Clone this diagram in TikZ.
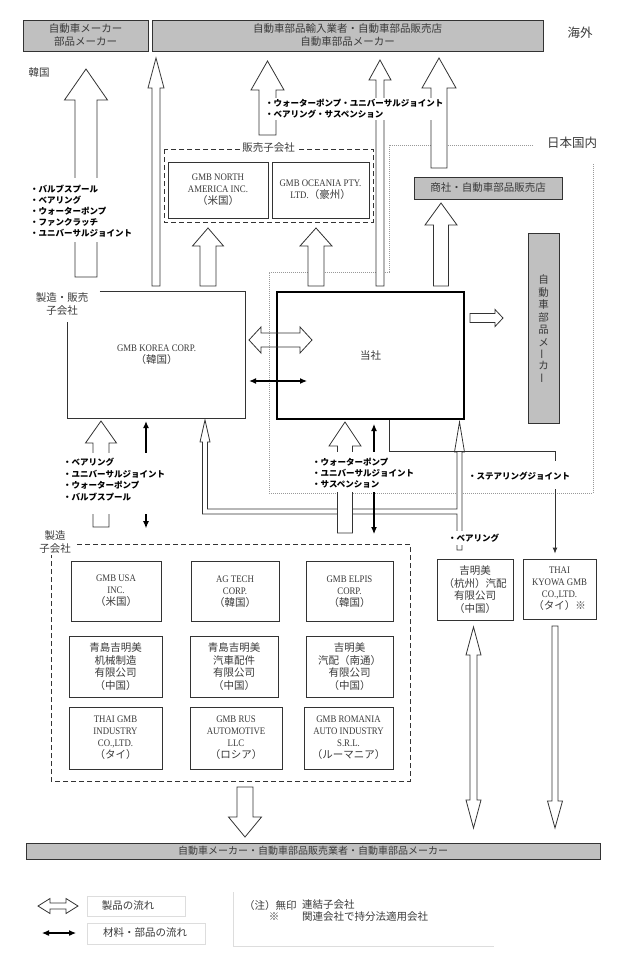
\documentclass[tikz,border=0pt]{standalone}
\usepackage{fontspec}
\setmainfont{Liberation Serif}
\newfontfamily\jp{Noto Sans CJK JP}
\newfontfamily\latf[FakeStretch=0.88]{Liberation Serif}
\usetikzlibrary{arrows.meta}
\definecolor{boxgray}{HTML}{C0C0C0}
\definecolor{linec}{HTML}{333333}
\definecolor{txtc}{HTML}{3A3A3A}
\definecolor{dotc}{HTML}{999999}
\definecolor{legc}{HTML}{DDDDDD}
\newcommand\BxJ{\jp\fontsize{10.5}{13}\selectfont}
\newcommand\SbJ{\jp\fontsize{10.5}{12.5}\selectfont}
\newcommand\BxL{\latf\fontsize{10}{12}\selectfont}
\newcommand\LbF{\jp\bfseries\fontsize{8.5}{11}\selectfont}
\newcommand\BigJ{\jp\fontsize{12.5}{14}\selectfont}
% block arrows: cx, tip y, bottom y, half shaft, half head, head length
\newcommand\ArrUp[6]{\filldraw[blockarr] (#1-#4,#3) -- (#1-#4,#2+#6) -- (#1-#5,#2+#6) -- (#1,#2) -- (#1+#5,#2+#6) -- (#1+#4,#2+#6) -- (#1+#4,#3) -- cycle;}
% cx, top y, tip y, half shaft, half head, head length
\newcommand\ArrDown[6]{\filldraw[blockarr] (#1-#4,#2) -- (#1-#4,#3-#6) -- (#1-#5,#3-#6) -- (#1,#3) -- (#1+#5,#3-#6) -- (#1+#4,#3-#6) -- (#1+#4,#2) -- cycle;}
% cx, top tip, bottom tip, half shaft, half head, head length
\newcommand\ArrUD[6]{\filldraw[blockarr] (#1,#2) -- (#1+#5,#2+#6) -- (#1+#4,#2+#6) -- (#1+#4,#3-#6) -- (#1+#5,#3-#6) -- (#1,#3) -- (#1-#5,#3-#6) -- (#1-#4,#3-#6) -- (#1-#4,#2+#6) -- (#1-#5,#2+#6) -- cycle;}
% cy, left tip, right tip, half shaft, half head, head length
\newcommand\ArrLR[6]{\draw[blockline] (#2,#1) -- (#2+#6,#1-#5) -- (#2+#6,#1-#4) -- (#3-#6,#1-#4) -- (#3-#6,#1-#5) -- (#3,#1) -- (#3-#6,#1+#5) -- (#3-#6,#1+#4) -- (#2+#6,#1+#4) -- (#2+#6,#1+#5) -- cycle;}
% cy, left end, tip, half shaft, half head, head length
\newcommand\ArrRight[6]{\filldraw[blockarr] (#2,#1-#4) -- (#3-#6,#1-#4) -- (#3-#6,#1-#5) -- (#3,#1) -- (#3-#6,#1+#5) -- (#3-#6,#1+#4) -- (#2,#1+#4) -- cycle;}
\begin{document}
\begin{tikzpicture}[x=1pt,y=-1pt,
  graybox/.style={draw=linec,fill=boxgray,line width=0.9pt,inner sep=0pt,font=\BxJ,text=txtc,align=center},
  cobox/.style={draw=linec,line width=0.8pt,inner sep=0pt,font=\BxL,text=txtc,align=center},
  blockarr/.style={draw=linec,fill=white,line width=0.8pt,line join=miter},
  blockline/.style={draw=linec,line width=0.8pt,line join=miter},
  matarr/.style={draw=black,line width=1.1pt,{Latex[length=7pt,width=6pt]}-{Latex[length=7pt,width=6pt]}},
  lbl/.style={font=\LbF,align=left,anchor=west,inner sep=0pt,text=black},
  tag/.style={font=\BxJ,text=txtc,align=center,fill=white,inner sep=1pt},
  plaintxt/.style={font=\BxJ,text=txtc,align=center,inner sep=0pt},
  dotline/.style={draw=dotc,line width=0.8pt,dash pattern=on 1pt off 1pt},
  dashbox/.style={draw=linec,line width=0.9pt,dash pattern=on 5pt off 3pt},
  cover/.style={fill=white,draw=none}]
\useasboundingbox (0,0) rectangle (631,955);
\fill[white] (0,0) rectangle (631,955);

% ---------- domestic area boundary ----------
\draw[dotline] (533,145) -- (389,145) -- (389,272) -- (269,272) -- (269,493) -- (593,493) -- (593,163);
\node[font=\BigJ,text=txtc] (jpn) at (572,143) {日本国内};
\node[font=\BigJ,text=txtc] (ovs) at (580,33) {海外};
\node[plaintxt] (kr) at (39,73) {韓国};

% ---------- gray customer boxes ----------
\node[graybox,minimum width=125,minimum height=31] (mkr) at (85.5,35.5) {自動車メーカー\\部品メーカー};
\node[graybox,minimum width=391,minimum height=31] (imp) at (347.5,35.5) {自動車部品輸入業者・自動車部品販売店\\自動車部品メーカー};
\node[graybox,minimum width=148,minimum height=22] (shosha) at (488,188) {商社・自動車部品販売店};
\node[graybox,minimum width=31,minimum height=190] (pmk) at (543.5,328) {};
\foreach \c/\yy [count=\i] in {自/280,動/292.5,車/305,部/317.5,品/330,メ/342.5,カ/366}
  \node[plaintxt] (pv\i) at (543.5,\yy) {\c};
\node[plaintxt,rotate=90] (pvb1) at (543.5,354) {ー};
\node[plaintxt,rotate=90] (pvb2) at (543.5,378) {ー};
\node[graybox,minimum width=574,minimum height=16,font=\jp\fontsize{10}{12}\selectfont] (cust) at (313,851) {自動車メーカー・自動車部品販売業者・自動車部品メーカー};

% ---------- sales subsidiaries ----------
\draw[dashbox] (164,149) rectangle (373,222);
\node[tag] (hsl) at (268.5,148) {販売子会社};
\node[cobox,minimum width=100,minimum height=56] (gna) at (218,190) {GMB NORTH\\AMERICA INC.\\{\SbJ（米国）}};
\node[cobox,minimum width=97,minimum height=56] (goc) at (320.5,190) {GMB OCEANIA PTY.\\LTD.{\SbJ（豪州）}};

% ---------- Korea ----------
\node[inner sep=0pt,minimum width=177,minimum height=126] (korea) at (156.5,355) {};
\draw[blockline] ([xshift=32pt]korea.north west) -- (korea.north east) -- (korea.south east) -- (korea.south west) -- ([yshift=-30pt]korea.north west);
\node[cobox,draw=none] (kort) at (156.5,355) {GMB KOREA CORP.\\{\SbJ（韓国）}};
\node[plaintxt] (kl) at (62,304.5) {製造・販売\\子会社};

% ---------- company ----------
\node[draw=black,line width=2pt,minimum width=187,minimum height=127,font=\BxJ,text=txtc] (tousha) at (370.5,355.5) {当社};

% ---------- manufacturing subsidiaries ----------
\draw[dashbox] (77,544) -- (410,544) -- (410,781) -- (51,781) -- (51,555);
\node[plaintxt] (msl) at (55,542.5) {製造\\子会社};
\node[cobox,minimum width=90,minimum height=60] (usa) at (116,591) {GMB USA\\INC.\\{\SbJ（米国）}};
\node[cobox,minimum width=88,minimum height=60] (agt) at (235,591.5) {AG TECH\\CORP.\\{\SbJ（韓国）}};
\node[cobox,minimum width=87,minimum height=60] (elp) at (349.5,591.5) {GMB ELPIS\\CORP.\\{\SbJ（韓国）}};
\node[cobox,font=\SbJ,minimum width=93,minimum height=61] (qd1) at (115.5,666.5) {青島吉明美\\机械制造\\有限公司\\（中国）};
\node[cobox,font=\SbJ,minimum width=88,minimum height=61] (qd2) at (234,666.5) {青島吉明美\\汽車配件\\有限公司\\（中国）};
\node[cobox,font=\SbJ,minimum width=87,minimum height=61] (nt) at (349.5,666.5) {吉明美\\汽配（南通）\\有限公司\\（中国）};
\node[cobox,minimum width=93,minimum height=62] (thg) at (115.5,738) {THAI GMB\\INDUSTRY\\CO.,LTD.\\{\SbJ（タイ）}};
\node[cobox,minimum width=92,minimum height=62] (rus) at (236,738) {GMB RUS\\AUTOMOTIVE\\LLC\\{\SbJ（ロシア）}};
\node[cobox,minimum width=89,minimum height=62] (rom) at (348.5,738) {GMB ROMANIA\\AUTO INDUSTRY\\S.R.L.\\{\SbJ（ルーマニア）}};

% ---------- right-hand affiliates ----------
\node[cobox,font=\SbJ,minimum width=76,minimum height=61] (hz) at (475,589.5) {吉明美\\（杭州）汽配\\有限公司\\（中国）};
\node[cobox,minimum width=73,minimum height=60] (kyowa) at (559.5,589) {THAI\\KYOWA GMB\\CO.,LTD.\\{\SbJ（タイ）※}};

% ---------- product flow (hollow arrows) ----------
\ArrUp{86}{69}{277}{11}{21.5}{31}
\ArrUp{156}{58}{286}{4}{8}{30}
\ArrUp{267.5}{61}{135}{8.5}{16.5}{29}
\ArrUp{380}{60}{286}{4}{11}{20}
\ArrUp{439}{58}{168}{8}{17}{30}
\ArrUp{208}{228}{286}{8}{15.5}{18}
\ArrUp{316}{228}{286}{8}{16}{18}
\ArrUp{441}{203}{286}{7.5}{16}{22}
\ArrRight{318}{470}{503}{4.5}{8.5}{8}
\ArrLR{340}{249}{312}{7}{13}{12}
\ArrUp{101}{421}{527}{8}{15.5}{22}
\filldraw[blockarr] (202.5,514) -- (202.5,442) -- (200,442) -- (205,420) -- (210,442) -- (207.5,442) -- (207.5,509) -- (457,509) -- (457,452) -- (454.5,452) -- (459.5,422) -- (464.5,452) -- (462,452) -- (462,550) -- (457,550) -- (457,514) -- cycle;
\ArrUp{345}{422}{533}{7.5}{16}{24}
\ArrUD{473.5}{627}{828}{3.5}{7.5}{28}
\ArrDown{555}{626}{828}{3}{7.5}{27}
\ArrDown{245}{787}{837}{8}{16.5}{20}

% ---------- material flow ----------
\draw[matarr] ([shift={(4,26)}]korea.east) -- ([shift={(31,25.5)}]tousha.west);
\draw[matarr] ([shift={(-10.5,3)}]korea.south) -- ([shift={(-10.5,110)}]korea.south);
\draw[matarr] ([shift={(3.5,4)}]tousha.south) -- ([shift={(3.5,114)}]tousha.south);
\draw[draw=linec,line width=0.9pt,-{Latex[length=6pt,width=5pt]}] ([xshift=18.5pt]tousha.south) -- ++(0,31) -| ([shift={(-4.5,-5)}]kyowa.north);

% ---------- labels ----------
\fill[cover] (70,178) rectangle (102,242);
\node[lbl] (la) at (30,211) {・バルブスプール\\・ベアリング\\・ウォーターポンプ\\・ファンクラッチ\\・ユニバーサルジョイント};
\node[lbl,fill=white,inner ysep=1pt] (lb) at (265,109) {・ウォーターポンプ・ユニバーサルジョイント\\・ベアリング・サスペンション};
\fill[cover] (60,453) rectangle (170,514);
\node[lbl,font=\jp\bfseries\fontsize{8.5}{11.7}\selectfont] (lc) at (63,479.5) {・ベアリング\\・ユニバーサルジョイント\\・ウォーターポンプ\\・バルブスプール};
\fill[cover] (310,452) rectangle (418,492);
\node[lbl] (ld) at (312,473) {・ウォーターポンプ\\・ユニバーサルジョイント\\・サスペンション};
\fill[cover] (545,461) rectangle (565,489);
\node[lbl] (le) at (468,476) {・ステアリングジョイント};
\fill[cover] (452,531) rectangle (467,545);
\node[lbl] (lf) at (448,538) {・ベアリング};

% ---------- legend ----------
\ArrLR{906}{38}{78}{3}{7.5}{12}
\draw[legc] (87,896) rectangle (185,916);
\node[plaintxt] (lg1) at (128,906) {製品の流れ};
\draw[matarr] (42,933) -- (76,933);
\draw[legc] (87,923) rectangle (205,944);
\node[plaintxt] (lg2) at (145,933) {材料・部品の流れ};
\draw[legc] (233,892) -- (233,946) -- (494,946);
\node[plaintxt,anchor=west] (n1) at (244,905) {（注）無印};
\node[plaintxt,anchor=west] (n2) at (302,905) {連結子会社};
\node[plaintxt] (n3) at (274,917) {※};
\node[plaintxt,anchor=west] (n4) at (302,917) {関連会社で持分法適用会社};
\end{tikzpicture}
\end{document}
